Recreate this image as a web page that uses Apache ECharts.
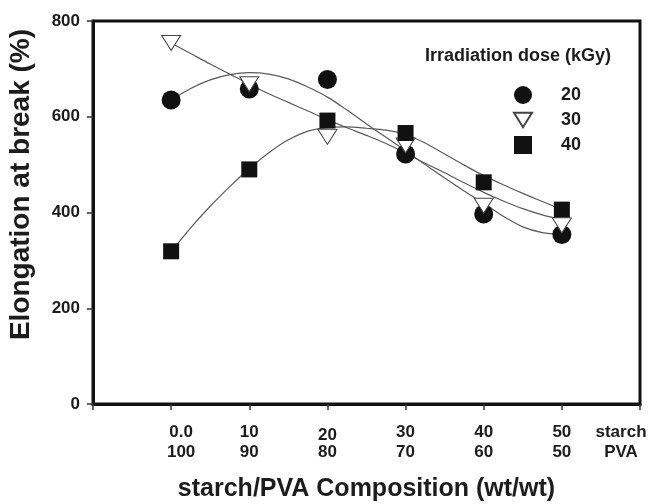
<!DOCTYPE html>
<html>
<head>
<meta charset="utf-8">
<script src="https://cdn.jsdelivr.net/npm/echarts@6/dist/echarts.min.js"></script>
<style>
  html, body { margin: 0; padding: 0; background: #fff; }
  #chart { width: 654px; height: 504px; }
</style>
</head>
<body>
<div id="chart"></div>
<script>
// starch content (wt%) of each blend and the matching tick captions
const compositions = [0, 10, 20, 30, 40, 50];
const starchLabels = ['0.0', '10', '20', '30', '40', '50'];
const pvaLabels = ['100', '90', '80', '70', '60', '50'];
const yTicks = [0, 200, 400, 600, 800];

// measured elongation at break (%) for each irradiation dose (kGy)
const doseNames = ['20', '30', '40'];
const dose20 = [635, 658, 678, 522, 397, 354];
const dose30 = [754, 668, 558, 540, 414, 373];
const dose40 = [319, 490, 592, 566, 463, 406];

// fitted trend curves, sampled along the composition axis
const fitX = [0, 2.5, 5, 7.5, 10, 12.5, 15, 17.5, 20, 22.5, 25, 27.5, 30, 32.5, 35, 37.5, 40, 42.5, 45, 47.5, 50];
const fit20 = [635, 659, 677, 688, 692, 689, 679, 662, 641, 614, 585, 557, 529, 500, 472, 445, 419, 392, 370, 358, 354];
const fit30 = [754, 732, 710, 689, 668, 648, 630, 612, 594, 577, 561, 544, 524, 503, 483, 462, 442, 424, 408, 395, 385];
const fit40 = [318, 368, 413, 454, 492, 525, 552, 570, 578, 579, 576, 572, 563, 545, 522, 499, 477, 458, 440, 423, 406];

const FONT = '"Liberation Sans", Arial, Helvetica, sans-serif';
const INK = '#1c1c1c';
const DOWN_TRIANGLE = 'path://M0,0L20,0L10,16Z';

const pairs = (xs, ys) => xs.map((x, i) => [x, ys[i]]);

const labelStyle = { fontFamily: FONT, fontWeight: 'bold', fontSize: 17, lineHeight: 20, color: INK };

function xLabel(value) {
  if (value === 60) return '{e|starch}\n{e|PVA}';
  const i = compositions.indexOf(value);
  if (i < 0) return '';
  if (i === 2) return '{d|' + starchLabels[i] + '}\n{n|' + pvaLabels[i] + '}';
  const key = i === 0 ? 'f' : 'n';
  return '{' + key + '|' + starchLabels[i] + '}\n{' + key + '|' + pvaLabels[i] + '}';
}

const fitStyle = { color: '#5a5a5a', width: 1.2 };

const chart = echarts.init(document.getElementById('chart'), null, { renderer: 'canvas' });

chart.setOption({
  animation: false,
  backgroundColor: '#fff',
  title: {
    text: 'Irradiation dose (kGy)',
    left: 425,
    top: 47,
    padding: 0,
    textStyle: { fontFamily: FONT, fontWeight: 'bold', fontSize: 18, color: INK }
  },
  legend: {
    data: [
      { name: doseNames[0] },
      { name: doseNames[1], icon: DOWN_TRIANGLE },
      { name: doseNames[2] }
    ],
    orient: 'vertical',
    left: 513,
    top: 86,
    itemWidth: 18,
    itemHeight: 18,
    itemGap: 7,
    padding: 0,
    selectedMode: false,
    textStyle: { fontFamily: FONT, fontWeight: 'bold', fontSize: 18, color: INK, padding: [0, 0, 0, 24] }
  },
  grid: {
    left: 93, right: 14, top: 21, bottom: 100,
    outerBoundsMode: 'none',
    containLabel: false,
    show: true, borderColor: '#111', borderWidth: 3, backgroundColor: 'transparent'
  },
  xAxis: {
    type: 'value',
    min: -10, max: 60, interval: 10,
    name: 'starch/PVA Composition (wt/wt)',
    nameLocation: 'middle',
    nameGap: 73,
    nameTextStyle: { fontFamily: FONT, fontWeight: 'bold', fontSize: 25, color: INK },
    axisLine: { show: true, onZero: false, lineStyle: { color: '#111', width: 3 } },
    axisTick: { show: true, inside: false, length: 6, lineStyle: { color: '#333', width: 1.5 } },
    splitLine: { show: false },
    axisLabel: {
      margin: 18,
      formatter: xLabel,
      rich: {
        n: labelStyle,
        f: Object.assign({}, labelStyle, { padding: [0, 0, 0, 20] }),
        d: Object.assign({}, labelStyle, { padding: [6, 0, 0, 0] }),
        e: Object.assign({}, labelStyle, { padding: [0, 38, 0, 0] })
      }
    }
  },
  yAxis: {
    type: 'value',
    min: yTicks[0], max: yTicks[yTicks.length - 1], interval: 200,
    name: 'Elongation at break (%)',
    nameLocation: 'middle',
    nameRotate: 90,
    nameGap: 58,
    nameTextStyle: { fontFamily: FONT, fontWeight: 'bold', fontSize: 28, color: INK, padding: [0, 0, 0, 56] },
    axisLine: { show: true, onZero: false, lineStyle: { color: '#111', width: 3 } },
    axisTick: { show: true, inside: false, length: 6, lineStyle: { color: '#333', width: 1.5 } },
    splitLine: { show: false },
    axisLabel: { margin: 13, fontFamily: FONT, fontWeight: 'bold', fontSize: 17, color: INK }
  },
  series: [
    { name: 'fit20', type: 'line', data: pairs(fitX, fit20), smooth: 0.3, showSymbol: false, lineStyle: fitStyle, z: 1, silent: true },
    { name: 'fit30', type: 'line', data: pairs(fitX, fit30), smooth: 0.3, showSymbol: false, lineStyle: fitStyle, z: 1, silent: true },
    { name: 'fit40', type: 'line', data: pairs(fitX, fit40), smooth: 0.3, showSymbol: false, lineStyle: fitStyle, z: 1, silent: true },
    {
      name: doseNames[0], type: 'scatter', data: pairs(compositions, dose20),
      symbol: 'circle', symbolSize: 19,
      itemStyle: { color: '#111', opacity: 1 }, z: 3
    },
    {
      name: doseNames[1], type: 'scatter', data: pairs(compositions, dose30),
      symbol: DOWN_TRIANGLE, symbolSize: [19, 15],
      itemStyle: { color: '#fff', borderColor: '#444', borderWidth: 1, opacity: 1 }, z: 4
    },
    {
      name: doseNames[2], type: 'scatter', data: pairs(compositions, dose40),
      symbol: 'rect', symbolSize: 16,
      itemStyle: { color: '#111', opacity: 1 }, z: 5
    }
  ]
});
</script>
</body>
</html>
